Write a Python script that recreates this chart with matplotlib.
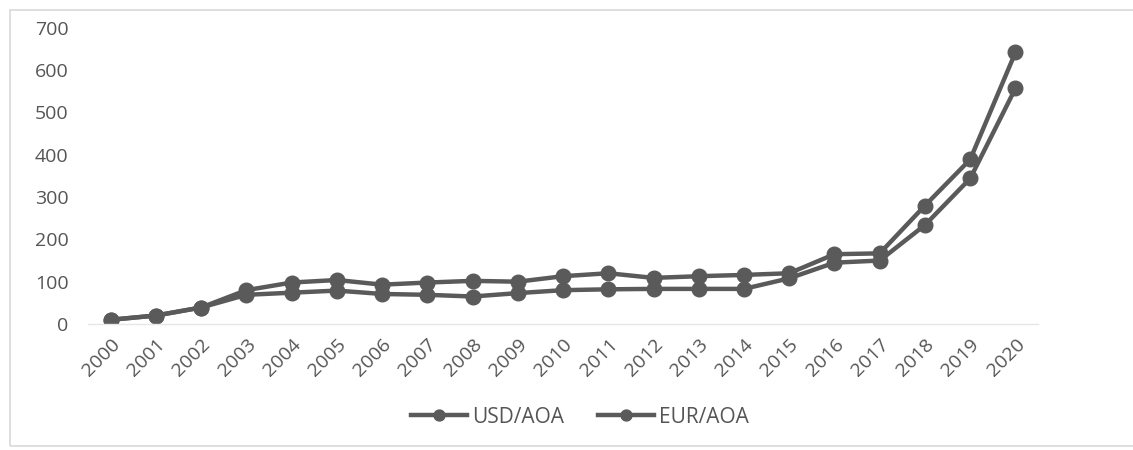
import numpy as np
import matplotlib.pyplot as plt
from matplotlib.patches import Rectangle

# data
years = [str(y) for y in range(2000, 2021)]
usd_aoa = [10, 20, 39, 69, 74, 79, 71, 69, 65, 73, 80, 82, 83, 83, 83, 108, 145, 150, 234, 344, 557]
eur_aoa = [10, 20, 39, 80, 98, 104, 93, 98, 102, 100, 113, 120, 109, 113, 116, 120, 165, 167, 280, 389, 642]
y_ticks = [0, 100, 200, 300, 400, 500, 600, 700]

plt.rcParams['font.family'] = ['Open Sans', 'DejaVu Sans']
grey = '#5a5a5a'
txt = '#555555'

fig = plt.figure(figsize=(11.33, 4.5), dpi=100)
ax = fig.add_axes([0.0777, 0.28, 0.8385, 0.658])

x = np.arange(len(years))
ax.plot(x, usd_aoa, color=grey, lw=3.2, marker='o', ms=10.5, label='USD/AOA')
ax.plot(x, eur_aoa, color=grey, lw=3.2, marker='o', ms=10.5, label='EUR/AOA')

ax.set_xlim(-0.5, len(years) - 0.5)
ax.set_ylim(0, 700)
ax.set_yticks(y_ticks)
ax.set_xticks(x)
ax.set_xticklabels(years, rotation=45, ha='right', rotation_mode='anchor')
ax.tick_params(axis='both', length=0, labelsize=14, colors=txt)
ax.tick_params(axis='y', pad=14)
ax.tick_params(axis='x', pad=8)
for s in ['top', 'right', 'left']:
    ax.spines[s].set_visible(False)
ax.spines['bottom'].set_color('#e6e6e6')
ax.spines['bottom'].set_linewidth(1)

leg = fig.legend(loc='center', bbox_to_anchor=(0.512, 0.073), ncol=2, frameon=False,
                 fontsize=15, handlelength=2.7, columnspacing=1.6, handletextpad=0.25,
                 markerscale=0.75)
for t in leg.get_texts():
    t.set_color(txt)

# outer chart border
fig.patches.append(Rectangle((10 / 1133, 4 / 450), 1.2, 436 / 450, transform=fig.transFigure,
                             fill=False, ec='#d9d9d9', lw=1.2))

fig.savefig('out.png', dpi=100)
